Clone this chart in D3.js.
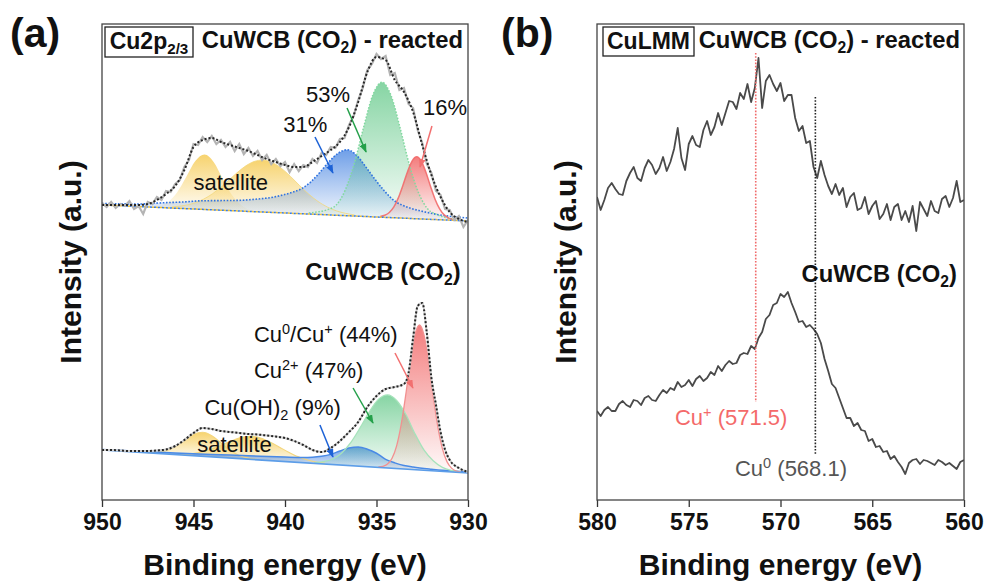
<!DOCTYPE html>
<html>
<head>
<meta charset="utf-8">
<script src="https://cdn.jsdelivr.net/npm/d3@7"></script>
<style>
  html, body { margin: 0; padding: 0; background: #fff; }
  svg { display: block; font-family: "Liberation Sans", Arial, sans-serif; }
</style>
</head>
<body>
<div id="chart"></div>
<script>
// ---------- panel (a): Cu 2p3/2, binding energy (eV) vs intensity (a.u.) ----------
const ticksA = [950, 945, 940, 935, 930];
const ticksB = [580, 575, 570, 565, 560];

// reacted sample: raw counts on a 0.25 eV grid (950 -> 930)
const rawTop = [297,293,298,292,296,294,299,291,294,286,
  298,296,303,300,309,308,316,320,333,340,
  356,355,363,358,364,356,360,353,358,349,
  356,346,352,344,349,340,345,336,341,334,
  338,328,336,329,335,333,341,337,347,345,
  353,352,361,362,375,384,400,412,430,436,
  446,441,444,425,427,410,412,396,392,370,
  357,336,327,309,305,291,290,280,284,273,
  280];
// fit envelope of the reacted sample on a 0.5 eV grid
const envTop = [295,295,295,295,295,296,300,306,314,330,
  353,360,362,358,355,352,349,345,341,338,
  335,333,333,338,344,350,358,373,398,428,
  443,440,420,408,388,355,325,303,288,281,
  278];
const baseTop = [[950, 295], [930, 279]];
const satTop1 = [[947.4,293],[946.9,294],[946.4,298],[945.9,307.5],[945.4,323],[944.9,339],[944.4,345.5],[943.9,338],[943.4,321],[942.9,305],[942.4,295],[941.9,290],[941.4,288.5]];
const satTop2 = [[946.2,293],[945.7,294],[945.2,295.6],[944.7,298.7],[944.2,303.4],[943.7,309.8],[943.2,317.6],[942.7,326],[942.2,333.4],[941.7,338.4],[941.2,340],[940.7,337.6],[940.2,331.8],[939.7,323.6],[939.2,314.4],[938.7,305.8],[938.2,298.6],[937.7,293.1],[937.2,289.2],[936.7,286.7],[936.2,285.1]];
const blueTop = [[950,296.5],[948,296],[946.6,297.3],[945.6,298],[944.6,299.2],[943.6,299.4],[942.6,299.6],[941.6,300.8],[940.6,303],[940.1,305.1],[939.6,307.7],[939.1,311.3],[938.6,317.9],[938.1,327.5],[937.6,338.1],[937.1,346.7],[936.6,350.3],[936.1,344.9],[935.6,333.5],[935.1,321.1],[934.6,309.7],[934.1,300.3],[933.6,294.9],[933.1,291.5],[932.6,289.1],[931.6,285.3],[930,282]];
const greenTop = [[938.7,287],[938.2,288.1],[937.7,290.2],[937.2,295],[936.7,310.3],[936.2,337.3],[935.7,372.9],[935.2,405],[934.7,417.8],[934.2,404.2],[933.7,371.3],[933.2,334.9],[932.7,307.1],[932.2,291],[931.7,285.4],[931.2,282.5],[930.7,280.6]];
const redTop = [[934.8,283.5],[934.55,284.7],[934.3,287.5],[934.05,293.1],[933.8,302.4],[933.55,315],[933.3,328.5],[933.05,339.2],[932.8,343.2],[932.55,338.8],[932.3,327.7],[932.05,313.8],[931.8,300.8],[931.55,291.1],[931.3,285.1],[931.05,281.9],[930.8,280.3]];

// as-prepared sample
const envBottom = [[950,50],[949.5,50],[949,49.5],[948.5,49],[948,49],[947.5,49],[947,49.5],[946.5,50.5],[946,54],[945.5,60],[945,67],[944.5,72],[944,71],[943.5,69],[943,68],[942.5,67],[942,66],[941.5,65.5],[941,64.5],[940.5,63.5],[940,62],[939.5,59],[939,55],[938.5,50],[938,48],[937.5,52],[937,59],[936.5,68],[936,78],[935.5,93],[935,104],[934.5,111],[934,113],[933.5,116],[933.25,127],[933,162],[932.75,194],[932.5,197],[932.25,167],[932,122],[931.75,95],[931.5,68],[931.25,50],[931,40],[930.5,32],[930,28]];
const baseBottom = [[950, 50], [930, 27]];
const satBot1 = [[947.5,47.4],[947,47.7],[946.5,49.2],[946,53.2],[945.5,59.4],[945,65.5],[944.5,67.7],[944,64.3],[943.5,57.1],[943,49.8],[942.5,44.6],[942,41.9],[941.5,40.5]];
const satBot2 = [[945.8,45.9],[945.3,46.1],[944.8,47.1],[944.3,49.2],[943.8,52.4],[943.3,56.2],[942.8,60.1],[942.3,63],[941.8,63.6],[941.3,61.8],[940.8,57.8],[940.3,52.8],[939.8,47.8],[939.3,43.4],[938.8,40.2],[938.3,38],[937.8,36.7]];
const blueBot = [[950,50.5],[946,46.9],[944,45.6],[942,44.3],[940,43],[939,42.6],[938.5,42.8],[938,43.7],[937.5,45.6],[937,49],[936.5,52],[936,52.9],[935.5,50.8],[935,46.75],[934.5,40.7],[934,37.1],[933.5,34.5],[933,32.95],[932,30.8],[930,28]];
const greenBot = [[938.4,37.4],[937.9,38.3],[937.4,41],[936.9,47.1],[936.4,57.6],[935.9,72.1],[935.4,88],[934.9,100.6],[934.4,105.1],[933.9,99.5],[933.4,85.7],[932.9,66.3],[932.4,49.8],[931.9,39.2],[931.4,32.6],[930.9,29.5],[930.4,28]];
const redBot = [[934.9,33],[934.65,33.6],[934.4,35.9],[934.15,41.8],[933.9,54.2],[933.65,75.6],[933.4,105.4],[933.15,138.5],[932.9,165],[932.65,175],[932.4,164.5],[932.15,137.4],[931.9,103.7],[931.65,73.3],[931.4,51.4],[931.15,38.4],[930.9,31.9],[930.65,29],[930.4,27.9]];

// ---------- panel (b): Cu LMM, 0.2 eV grid (580 -> 560) ----------
const lmmReacted = [303,290,300,312,317,311,306,305,319,327,
  333,322,319,332,340,335,326,332,343,329,
  338,351,372,342,330,356,364,355,353,370,
  379,365,373,387,375,387,399,398,391,407,
  401,416,398,412,442,392,419,425,416,409,
  417,399,405,405,382,369,374,357,359,333,
  322,339,325,314,306,316,305,312,293,303,
  307,290,292,303,286,294,299,281,286,296,
  280,293,296,280,289,278,294,269,298,291,
  284,299,289,287,301,304,293,302,319,298,
  300];
const lmmFresh = [89,84,90,93,89,89,96,99,95,93,
  100,99,95,102,104,100,99,105,110,107,
  112,110,118,113,115,120,114,121,124,119,
  122,128,125,134,129,135,139,136,137,145,
  147,146,154,151,162,168,181,185,195,197,
  206,203,208,197,188,178,179,173,175,171,
  166,157,141,129,116,112,102,92,82,82,
  74,77,70,69,59,61,53,54,48,49,
  41,44,38,33,26,37,40,41,36,40,
  39,37,35,40,38,35,37,34,31,38,
  40];
// reference positions: [eV, top intensity, bottom intensity]
const cuPlusLine = [571.35, 447, 98];
const cuZeroLine = [568.1, 403, 46];

// ---------- layout ----------
const W = 985, H = 583;
const plotTop = 24, plotBottom = 500;
const pa = { left: 102, right: 468 }, pb = { left: 597, right: 964 };
const FONT = '"Liberation Sans", Arial, sans-serif';
const col = { yellow: '#f5c84a', blue: '#3f7fe0', green: '#45be72', red: '#f05c5c' };

const xA = d3.scaleLinear().domain([950, 930]).range([pa.left, pa.right]);
const xB = d3.scaleLinear().domain([580, 560]).range([pb.left, pb.right]);
const y = d3.scaleLinear().domain([0, plotBottom - plotTop]).range([plotBottom, plotTop]);

const svg = d3.select('#chart').append('svg').attr('width', W).attr('height', H);
const defs = svg.append('defs');

// fading fills, strong at the peak and white at the baseline
const fillOpacity = { yellow: 0.8, blue: 0.75, green: 0.65, red: 0.8 };
Object.keys(col).forEach(k => {
  const g = defs.append('linearGradient').attr('id', 'grad-' + k)
    .attr('x1', 0).attr('y1', 0).attr('x2', 0).attr('y2', 1);
  g.append('stop').attr('offset', 0).attr('stop-color', col[k]).attr('stop-opacity', fillOpacity[k]);
  g.append('stop').attr('offset', 1).attr('stop-color', col[k]).attr('stop-opacity', 0.03);
});
const arrowCol = { green: '#24a04a', blue: '#1d62d6', red: '#f27070' };
Object.keys(arrowCol).forEach(k => {
  defs.append('marker').attr('id', 'arrow-' + k).attr('viewBox', '0 0 10 10')
    .attr('refX', 9).attr('refY', 5).attr('markerWidth', 9).attr('markerHeight', 7)
    .attr('markerUnits', 'userSpaceOnUse').attr('preserveAspectRatio', 'none').attr('orient', 'auto')
    .append('path').attr('d', 'M0,0L10,5L0,10Z').attr('fill', arrowCol[k]);
});
defs.append('clipPath').attr('id', 'clipA').append('rect')
  .attr('x', pa.left).attr('y', plotTop).attr('width', pa.right - pa.left).attr('height', plotBottom - plotTop);
defs.append('clipPath').attr('id', 'clipB').append('rect')
  .attr('x', pb.left).attr('y', plotTop).attr('width', pb.right - pb.left).attr('height', plotBottom - plotTop);

// text with sub/superscripts: parts are strings or [text, 'sub'|'sup']
function richText(g, x, yy, parts, o) {
  const t = g.append('text').attr('x', x).attr('y', yy)
    .attr('font-family', FONT).attr('font-size', o.size)
    .attr('font-weight', o.weight || 'normal').attr('fill', o.color || '#111')
    .attr('text-anchor', o.anchor || 'start');
  let shift = 0;
  parts.forEach(p => {
    const s = typeof p === 'string' ? [p, ''] : p;
    const target = s[1] === 'sub' ? o.size * 0.22 : s[1] === 'sup' ? -o.size * 0.38 : 0;
    t.append('tspan').attr('dy', target - shift)
      .attr('font-size', s[1] ? o.size * 0.66 : o.size).text(s[0]);
    shift = target;
  });
  return t;
}

function panelAxis(x, ticks, left, right) {
  const ax = svg.append('g').attr('transform', `translate(0,${plotBottom})`)
    .call(d3.axisBottom(x).tickValues(ticks).tickSize(7).tickFormat(d3.format('d')));
  ax.select('.domain').remove();
  ax.selectAll('.tick line').attr('stroke', '#333').attr('stroke-width', 1.3);
  ax.selectAll('.tick text').attr('font-family', FONT).attr('font-size', 23)
    .attr('font-weight', 'bold').attr('fill', '#111').attr('y', 30).attr('dy', 0);
  svg.append('rect').attr('x', left).attr('y', plotTop).attr('width', right - left)
    .attr('height', plotBottom - plotTop).attr('fill', 'none').attr('stroke', '#444').attr('stroke-width', 1.3);
  svg.append('text').attr('x', (left + right) / 2).attr('y', 575).attr('text-anchor', 'middle')
    .attr('font-family', FONT).attr('font-size', 30).attr('font-weight', 'bold').attr('fill', '#111')
    .text('Binding energy (eV)');
  svg.append('text').attr('transform', `translate(${left - 21},${(plotTop + plotBottom) / 2}) rotate(-90)`)
    .attr('text-anchor', 'middle').attr('font-family', FONT).attr('font-size', 30)
    .attr('font-weight', 'bold').attr('fill', '#111').text('Intensity (a.u.)');
}

// ---------- panel (a) ----------
const gA = svg.append('g').attr('clip-path', 'url(#clipA)');
const gridRaw = d3.range(950, 929.9, -0.25);
const gridEnv = d3.range(950, 929.9, -0.5);

function drawSpectrum(base, comps, style) {
  const baseAt = d3.scaleLinear().domain(base.map(d => d[0])).range(base.map(d => d[1]));
  const area = d3.area().x(d => xA(d[0])).y0(d => y(baseAt(d[0]))).y1(d => y(d[1])).curve(d3.curveMonotoneX);
  const line = d3.line().x(d => xA(d[0])).y(d => y(d[1])).curve(d3.curveMonotoneX);
  comps.forEach(c => {
    gA.append('path').datum(c.data).attr('d', area).attr('fill', `url(#grad-${c.key})`);
  });
  comps.forEach(c => {
    if (!c.stroke) return;
    gA.append('path').datum(c.data).attr('d', line).attr('fill', 'none')
      .attr('stroke', c.stroke).attr('stroke-width', c.width || 1.4)
      .attr('stroke-dasharray', c.dash || null).attr('stroke-opacity', c.opacity || 1);
  });
  style.baseLines.forEach(b => {
    gA.append('path').datum(base).attr('d', line).attr('fill', 'none')
      .attr('stroke', b.stroke).attr('stroke-width', b.width)
      .attr('stroke-dasharray', b.dash || null).attr('stroke-dashoffset', b.offset || 0);
  });
}

drawSpectrum(baseTop, [
  { key: 'yellow', data: satTop1 },
  { key: 'yellow', data: satTop2, stroke: '#f3d77a', width: 1, opacity: 0.8 },
  { key: 'blue', data: blueTop, stroke: '#2f73e0', width: 1.6, dash: '1.6,1.6' },
  { key: 'green', data: greenTop, stroke: '#82d8a0', width: 1.5, dash: '1.6,1.6' },
  { key: 'red', data: redTop, stroke: '#f26a6a', width: 1.5, opacity: 0.9 }
], { baseLines: [
  { stroke: '#f2c230', width: 1.5, dash: '2,2', offset: 2 },
  { stroke: '#3a7be0', width: 1.5, dash: '2,2' }
] });

drawSpectrum(baseBottom, [
  { key: 'yellow', data: satBot1, stroke: '#f4d67c', width: 1.1 },
  { key: 'yellow', data: satBot2, stroke: '#f4d67c', width: 1.1 },
  { key: 'blue', data: blueBot, stroke: '#4a8ae6', width: 1.5 },
  { key: 'green', data: greenBot, stroke: '#a6e3bb', width: 1.3 },
  { key: 'red', data: redBot, stroke: '#f29090', width: 1.3 }
], { baseLines: [{ stroke: '#5c9de8', width: 1.7 }] });

const lineA = d3.line().x(d => xA(d[0])).y(d => y(d[1]));
// measured data and fit envelopes
gA.append('path').datum(gridRaw.map((e, i) => [e, rawTop[i]])).attr('d', lineA)
  .attr('fill', 'none').attr('stroke', '#b4b4b4').attr('stroke-width', 2.2);
gA.append('path').datum(gridEnv.map((e, i) => [e, envTop[i]]))
  .attr('d', lineA.curve(d3.curveMonotoneX)).attr('fill', 'none')
  .attr('stroke', '#262626').attr('stroke-width', 2).attr('stroke-dasharray', '2,2');
gA.append('path').datum(envBottom).attr('d', lineA).attr('fill', 'none')
  .attr('stroke', '#cfcfcf').attr('stroke-width', 2);
gA.append('path').datum(envBottom).attr('d', lineA).attr('fill', 'none')
  .attr('stroke', '#262626').attr('stroke-width', 2).attr('stroke-dasharray', '2,2');

// annotations, positions in data units (eV, intensity)
const labelsA = [
  { e: 940.1, i: 368, parts: ['31%'] },
  { e: 938.85, i: 398, parts: ['53%'] },
  { e: 932.46, i: 385, parts: ['16%'] },
  { e: 945.0, i: 310, parts: ['satellite'] },
  { e: 941.7, i: 158, parts: ['Cu', ['0', 'sup'], '/Cu', ['+', 'sup'], ' (44%)'] },
  { e: 941.7, i: 122, parts: ['Cu', ['2+', 'sup'], ' (47%)'] },
  { e: 944.4, i: 85, parts: ['Cu(OH)', ['2', 'sub'], ' (9%)'] },
  { e: 944.8, i: 48, parts: ['satellite'] }
];
const arrowsA = [
  { from: [936.61, 392], to: [935.57, 348], c: 'green' },
  { from: [938.36, 363], to: [937.38, 327], c: 'blue' },
  { from: [931.97, 374], to: [932.62, 333], c: 'red' },
  { from: [933.99, 147], to: [933.01, 112], c: 'red' },
  { from: [936.28, 112], to: [935.19, 77], c: 'green' },
  { from: [938.09, 75], to: [937.38, 43], c: 'blue' }
];
arrowsA.forEach(a => {
  svg.append('line').attr('x1', xA(a.from[0])).attr('y1', y(a.from[1]))
    .attr('x2', xA(a.to[0])).attr('y2', y(a.to[1]))
    .attr('stroke', arrowCol[a.c]).attr('stroke-width', 1.5).attr('marker-end', `url(#arrow-${a.c})`);
});
labelsA.forEach(l => richText(svg, xA(l.e), y(l.i), l.parts, { size: 22 }));

richText(svg, xA(930.27), y(452), ['CuWCB (CO', ['2', 'sub'], ') - reacted'], { size: 23.8, weight: 'bold', anchor: 'end' });
richText(svg, xA(930.4), y(220), ['CuWCB (CO', ['2', 'sub'], ')'], { size: 23.8, weight: 'bold', anchor: 'end' });
svg.append('rect').attr('x', 105).attr('y', 27).attr('width', 88).attr('height', 30)
  .attr('fill', '#fff').attr('stroke', '#222').attr('stroke-width', 1.3);
richText(svg, 149, 49, ['Cu2p', ['2/3', 'sub']], { size: 23, weight: 'bold', anchor: 'middle' });

panelAxis(xA, ticksA, pa.left, pa.right);

// ---------- panel (b) ----------
const gB = svg.append('g').attr('clip-path', 'url(#clipB)');
const gridB = d3.range(580, 559.9, -0.2);
const lineB = d3.line().x(d => xB(d[0])).y(d => y(d[1]));
[lmmReacted, lmmFresh].forEach(vals => {
  gB.append('path').datum(gridB.map((e, i) => [e, vals[i]])).attr('d', lineB)
    .attr('fill', 'none').attr('stroke', '#4a4a4a').attr('stroke-width', 1.8).attr('stroke-linejoin', 'round');
});
[[cuPlusLine, '#f06a6a'], [cuZeroLine, '#222']].forEach(([m, c]) => {
  svg.append('line').attr('x1', xB(m[0])).attr('x2', xB(m[0])).attr('y1', y(m[1])).attr('y2', y(m[2]))
    .attr('stroke', c).attr('stroke-width', 1.6).attr('stroke-dasharray', '1.6,1.6');
});
richText(svg, xB(575.75), y(75), ['Cu', ['+', 'sup'], ' (571.5)'], { size: 22, color: '#f46a6a' });
richText(svg, xB(572.48), y(24), ['Cu', ['0', 'sup'], ' (568.1)'], { size: 22, color: '#555' });
richText(svg, xB(560.22), y(452), ['CuWCB (CO', ['2', 'sub'], ') - reacted'], { size: 23.8, weight: 'bold', anchor: 'end' });
richText(svg, xB(560.38), y(218), ['CuWCB (CO', ['2', 'sub'], ')'], { size: 23.8, weight: 'bold', anchor: 'end' });
svg.append('rect').attr('x', 603).attr('y', 27).attr('width', 91).attr('height', 29)
  .attr('fill', '#fff').attr('stroke', '#222').attr('stroke-width', 1.3);
richText(svg, 648.5, 49, ['CuLMM'], { size: 23, weight: 'bold', anchor: 'middle' });

panelAxis(xB, ticksB, pb.left, pb.right);

// panel letters
svg.append('text').attr('x', 10).attr('y', 47).attr('font-family', FONT).attr('font-size', 41)
  .attr('font-weight', 'bold').attr('fill', '#111').text('(a)');
svg.append('text').attr('x', 501).attr('y', 47).attr('font-family', FONT).attr('font-size', 41)
  .attr('font-weight', 'bold').attr('fill', '#111').text('(b)');
</script>
</body>
</html>
